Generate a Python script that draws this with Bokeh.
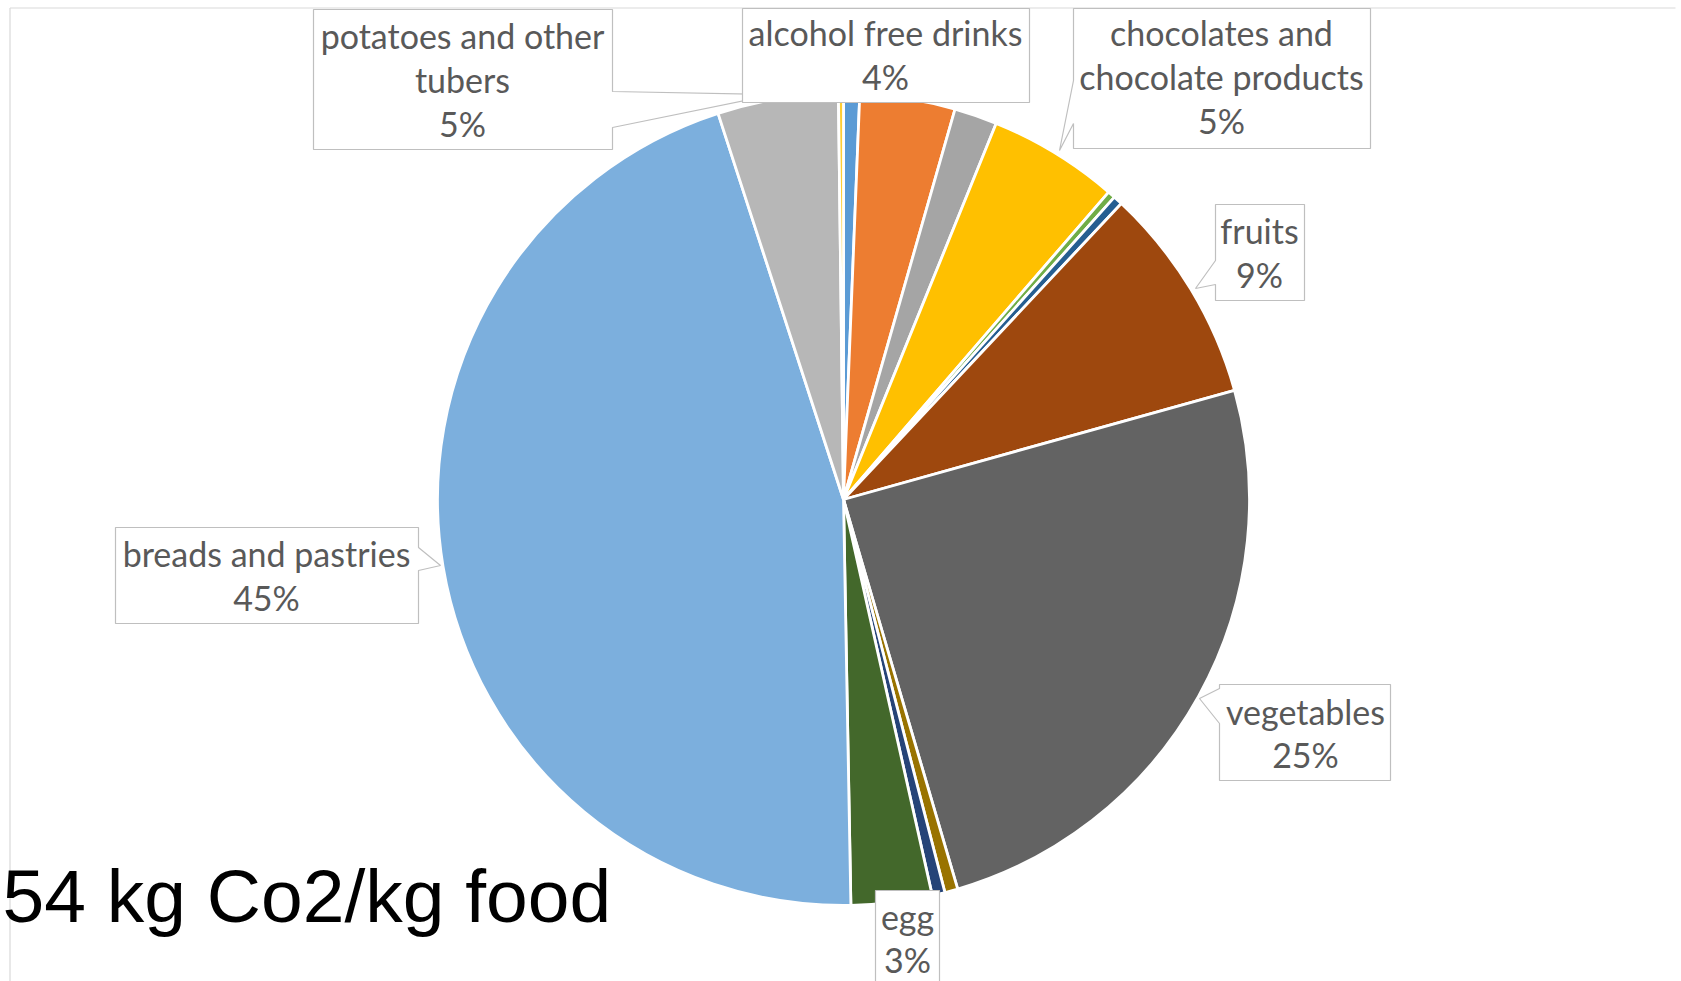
import numpy as np
from bokeh.plotting import figure
from bokeh.models import Range1d, ColumnDataSource
from bokeh.core.properties import value
from bokeh.embed import file_html
from bokeh.resources import INLINE

# ---------------- data ----------------
categories = ["other 1", "alcohol free drinks", "other 2",
              "chocolates and chocolate products", "other 3", "other 4",
              "fruits", "vegetables", "other 5", "other 6", "egg",
              "breads and pastries", "potatoes and other tubers", "other 7"]
shares = [0.64, 3.79, 1.71, 5.19, 0.30, 0.37, 8.67, 24.8, 0.52, 0.51,
          3.22, 45.3, 4.8, 0.2]
colors = ["#5B9BD5", "#ED7D31", "#A5A5A5", "#FFC000", "#70AD47", "#255E91",
          "#9E480E", "#636363", "#997300", "#264478", "#43682B", "#7CAFDD",
          "#B7B7B7", "#FFCD33"]
# wrapped label lines for labelled slices
label_names = {
    "alcohol free drinks": ["alcohol free drinks"],
    "chocolates and chocolate products": ["chocolates and", "chocolate products"],
    "fruits": ["fruits"],
    "vegetables": ["vegetables"],
    "egg": ["egg"],
    "breads and pastries": ["breads and pastries"],
    "potatoes and other tubers": ["potatoes and other", "tubers"],
}
title_text = "54 kg Co2/kg food"

# ---------------- layout (screen pixels) ----------------
W, H = 1681, 981
OX, OY = 0, 0


def sx(x):
    return x - OX


def sy(y):
    return (OY + H) - y


CX, CY, R = 843, 499, 406

# callout boxes: polygon (screen), text centre x, line centre ys
callouts = {
    "potatoes and other tubers": dict(
        poly=[(313, 9), (612, 9), (612, 91), (774, 94), (612, 127), (612, 149), (313, 149)],
        tx=462, ty=[35, 79, 123]),
    "alcohol free drinks": dict(
        poly=[(742, 8), (1029, 8), (1029, 102), (742, 102)],
        tx=885, ty=[32, 76]),
    "chocolates and chocolate products": dict(
        poly=[(1073, 8), (1370, 8), (1370, 148), (1073, 148), (1073, 123), (1059, 150), (1073, 80)],
        tx=1221, ty=[32, 76, 120]),
    "fruits": dict(
        poly=[(1215, 204), (1304, 204), (1304, 300), (1215, 300), (1215, 284), (1195, 288), (1215, 260)],
        tx=1259, ty=[230, 274]),
    "vegetables": dict(
        poly=[(1219, 684), (1390, 684), (1390, 780), (1219, 780), (1219, 723), (1199, 698), (1219, 688)],
        tx=1305, ty=[711, 754]),
    "breads and pastries": dict(
        poly=[(115, 527), (418, 527), (418, 547), (440, 565), (418, 570), (418, 623), (115, 623)],
        tx=266, ty=[553, 597]),
    "egg": dict(
        poly=[(875, 890), (939, 890), (939, 990), (875, 990)],
        tx=907, ty=[916, 959]),
}
draw_order = ["potatoes and other tubers", "alcohol free drinks",
              "chocolates and chocolate products", "fruits", "vegetables",
              "breads and pastries", "egg"]

# ---------------- figure ----------------
p = figure(width=W, height=H, output_backend="svg", toolbar_location=None,
           x_range=Range1d(0, W), y_range=Range1d(0, H), min_border=0)
p.axis.visible = False
p.grid.visible = False
p.outline_line_color = None
p.background_fill_color = "white"
p.border_fill_color = "white"

# chart frame lines (left & top)
p.multi_line(xs=[[sx(9.5), sx(9.5)], [sx(9.5), sx(1675)]],
             ys=[[sy(7.5), sy(990)], [sy(7.5), sy(7.5)]],
             line_color="#D9D9D9", line_width=1.2)

# pie
vals = np.array(shares, dtype=float)
frac = vals / vals.sum()
cum = np.concatenate([[0.0], np.cumsum(frac)])
start = np.pi / 2 - 2 * np.pi * cum[:-1]
end = np.pi / 2 - 2 * np.pi * cum[1:]
src = ColumnDataSource(dict(start=start, end=end, color=colors, cat=categories))
p.wedge(x=sx(CX), y=sy(CY), radius=R, start_angle="start", end_angle="end",
        direction="clock", fill_color="color", line_color="white",
        line_width=2.8, source=src)

# callouts
FONT = "Lato"
for name in draw_order:
    c = callouts[name]
    i = categories.index(name)
    pct = f"{round(frac[i] * 100):.0f}%"
    lines = label_names[name] + [pct]
    xs = [sx(x) for x, _ in c["poly"]]
    ys = [sy(y) for _, y in c["poly"]]
    p.patch(xs, ys, fill_color="white", line_color="#BFBFBF", line_width=1.2)
    p.text(x=[sx(c["tx"])] * len(lines), y=[sy(t) for t in c["ty"]], text=lines,
           text_font=value(FONT), text_font_size="34px", text_color="#595959",
           text_align="center", text_baseline="middle")

# big annotation
p.text(x=[sx(2)], y=[sy(895)], text=[title_text],
       text_font=value("Liberation Sans"), text_font_size="75px",
       text_color="black", text_align="left", text_baseline="middle")

open("out.html", "w").write(file_html(p, INLINE))
